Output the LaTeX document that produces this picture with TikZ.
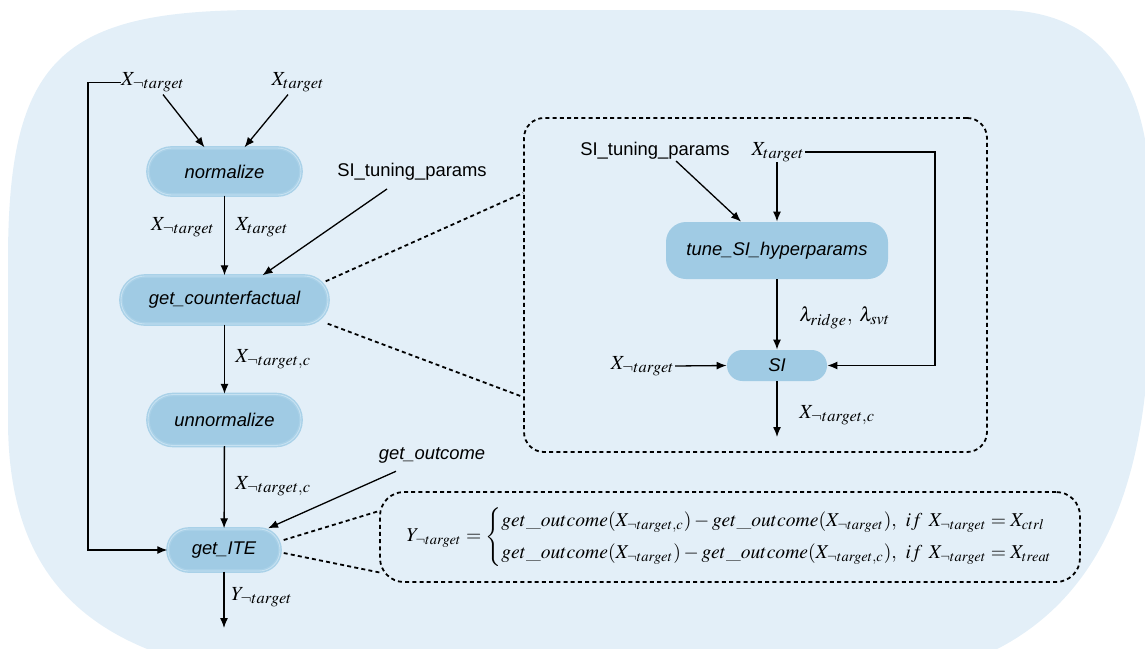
\documentclass[tikz,border=0pt]{standalone}
\usepackage{amsmath}
\usepackage{mathptmx}
\usepackage{fontspec}
\setsansfont{Liberation Sans}
\DeclareMathSizes{10}{10}{8.2}{6}
\usetikzlibrary{arrows.meta,calc}
\definecolor{bgblue}{HTML}{E3EFF8}
\definecolor{nodefill}{HTML}{A0CBE4}
\definecolor{nodeedge}{HTML}{A9D1E8}
\definecolor{nodeinner}{HTML}{C6E1F1}
\begin{document}
\begin{tikzpicture}[x=0.5pt,y=-0.5pt,
  flow/.style={draw=nodeedge, double=nodeinner, double distance=0.45pt, line width=0.7pt, fill=nodefill, inner sep=0pt, font=\sffamily\itshape\fontsize{9.2}{11}\selectfont},
  sub/.style={fill=nodefill, inner sep=0pt, font=\sffamily\itshape\fontsize{9.2}{11}\selectfont},
  lab/.style={inner sep=0pt, font=\fontsize{10}{12}\selectfont},
  slab/.style={inner sep=0pt, font=\sffamily\fontsize{9.2}{11}\selectfont},
  arr/.style={line width=0.65pt, -{Latex[length=5pt,width=4pt]}},
  ln/.style={line width=0.65pt},
  dsh/.style={line width=0.9pt, dash pattern=on 2pt off 1.6pt}]
\clip (0,0) rectangle (1145,648);
% background
\fill[bgblue] (8,260) .. controls (8,60) and (60,10) .. (260,10) -- (1000,10)
  .. controls (1100,10) and (1150,80) .. (1150,200) -- (1150,300)
  .. controls (1150,520) and (1080,650) .. (900,680) -- (250,675)
  .. controls (70,650) and (8,560) .. (8,420) -- cycle;

% main flow nodes
\node[flow, minimum width=76.5pt, minimum height=23.5pt, rounded corners=11.7pt] (norm) at (224.5,171.5) {normalize};
\node[flow, minimum width=103.5pt, minimum height=24pt, rounded corners=11.9pt] (gcf) at (224.5,300) {get\_counterfactual};
\node[flow, minimum width=76.5pt, minimum height=25.5pt, rounded corners=12.6pt] (unnorm) at (224.5,420) {unnormalize};
\node[flow, minimum width=56pt, minimum height=21pt, rounded corners=10.4pt] (ite) at (224,550) {get\_ITE};

% labels
\node[lab] (xnt) at (153,82.5) {$X_{\neg target}$};
\node[lab] (xt) at (298,82.5) {$X_{target}$};
\node[lab] (xnt2) at (183,227) {$X_{\neg target}$};
\node[lab] (xt2) at (262,227) {$X_{target}$};
\node[lab, anchor=west] (xntc1) at (235,359) {$X_{\neg target,c}$};
\node[lab, anchor=west] (xntc2) at (235,486) {$X_{\neg target,c}$};
\node[lab, anchor=west] (yout) at (231,597) {$Y_{\neg target}$};
\node[slab] (sitp) at (412,172) {SI\_tuning\_params};
\node[slab, font=\sffamily\itshape\fontsize{9.2}{11}\selectfont] (gout) at (432,455) {get\_outcome};
\coordinate (loopc) at (88,82.5);
\coordinate (yend) at (224,628);

% main flow arrows
\draw[arr] ($(xnt.south)+(10,2)$) -- ($(norm.north)+(-20,0)$);
\draw[arr] ($(xt.south)+(-10,2)$) -- ($(norm.north)+(20,0)$);
\draw[arr] (norm) -- (gcf);
\draw[arr] (gcf) -- (unnorm);
\draw[arr] (unnorm) -- (ite);
\draw[arr] (ite) -- (yend);
\draw[arr] ($(sitp.south)+(-25,8)$) -- ($(gcf.north)+(38,0)$);
\draw[arr] ($(gout.south)+(-36,8)$) -- ($(ite.north)+(44,0)$);
\draw[arr] (xnt.west) -- (loopc) |- (ite.west);

% SI detail box
\node[dsh, draw, minimum width=231.5pt, minimum height=167pt, rounded corners=10pt] (sibox) at (755.5,285) {};
\draw[dsh] ($(gcf.north east)+(-3,6)$) -- ($(sibox.west)+(0,-92)$);
\draw[dsh] ($(gcf.south east)+(-1,-1)$) -- ($(sibox.west)+(0,112)$);

\node[sub, minimum width=111pt, minimum height=28.5pt, rounded corners=10pt] (tune) at (777,250.5) {tune\_SI\_hyperparams};
\node[sub, minimum width=50pt, minimum height=15.5pt, rounded corners=7.7pt] (si) at (777,365.5) {SI};
\node[slab] (sitp2) at (655,151) {SI\_tuning\_params};
\node[lab] (xt3) at (778,152) {$X_{target}$};
\node[lab, anchor=east] (xnt3) at (675,366) {$X_{\neg target}$};
\node[lab, anchor=west] (lam) at (799,318) {$\lambda_{ridge},\;\lambda_{svt}$};
\node[lab, anchor=west] (xntc3) at (799,415) {$X_{\neg target,c}$};
\coordinate (rloop) at (935,152);
\coordinate (siend) at (777,437);

\draw[arr] (tune.north |- xt3.south) -- (tune.north);
\draw[arr] ($(sitp2.south)+(21,1)$) -- ($(tune.north)+(-36,0)$);
\draw[arr] (xt3.east) -- (rloop) |- (si.east);
\draw[arr] (tune) -- (si);
\draw[arr] (xnt3.east) -- (si.west);
\draw[arr] (si) -- (siend);

% formula box
\node[dsh, draw, minimum width=350pt, minimum height=45pt, rounded corners=12pt] (fbox) at (730,537) {};
\draw[dsh] ($(ite.east)+(3,-10)$) -- ($(fbox.west)+(0,-26)$);
\draw[dsh] ($(ite.east)+(3,3)$) -- ($(fbox.west)+(3,36)$);
\node[lab, font=\fontsize{9.8}{11.5}\selectfont] (formula) at (740,537) {$Y_{\neg target} = \begin{cases} get\_outcome(X_{\neg target,c}) - get\_outcome(X_{\neg target}),\ if\ X_{\neg target} = X_{ctrl}\\[2pt] get\_outcome(X_{\neg target}) - get\_outcome(X_{\neg target,c}),\ if\ X_{\neg target} = X_{treat}\end{cases}$};
\end{tikzpicture}
\end{document}
